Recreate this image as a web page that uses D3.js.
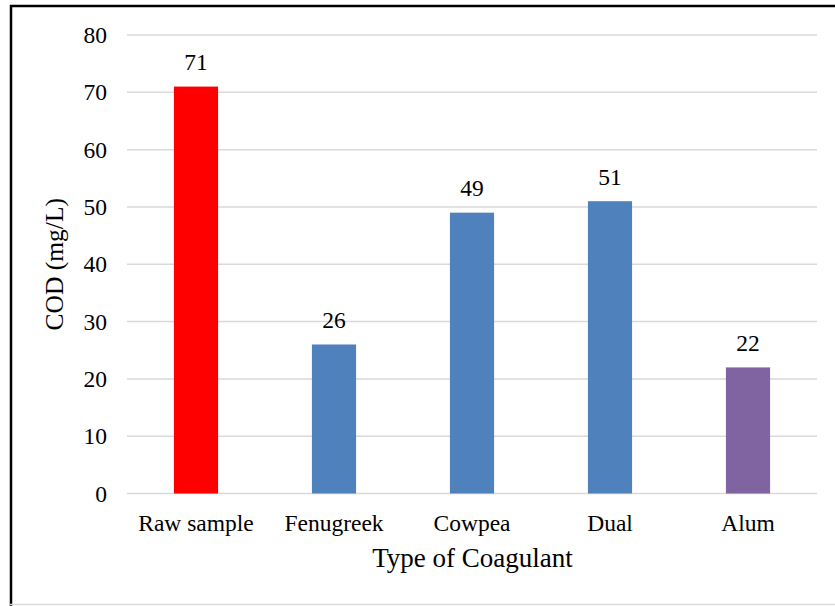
<!DOCTYPE html>
<html>
<head>
<meta charset="utf-8">
<script src="https://cdn.jsdelivr.net/npm/d3@7"></script>
<style>
  html, body { margin: 0; padding: 0; background: #fff; }
  svg { display: block; }
  text { font-family: "Liberation Serif", "Times New Roman", serif; fill: #000; }
</style>
</head>
<body>
<script>
// COD after treatment with each coagulant
const categories = ["Raw sample", "Fenugreek", "Cowpea", "Dual", "Alum"];
const codValues = [71, 26, 49, 51, 22];
const barColors = ["#FF0000", "#4F81BD", "#4F81BD", "#4F81BD", "#8064A2"];
const yTicks = [0, 10, 20, 30, 40, 50, 60, 70, 80];

const W = 835, H = 606;
const plot = { left: 127, right: 817, top: 35, bottom: 493.5 };
const labelSize = 23.5;

const svg = d3.select("body").append("svg")
  .attr("width", W).attr("height", H);

svg.append("rect").attr("width", W).attr("height", H).attr("fill", "#fff");

// frame: dark top/left, light bottom
svg.append("line").attr("x1", 10).attr("x2", W).attr("y1", 6).attr("y2", 6)
  .attr("stroke", "#000").attr("stroke-width", 2.5);
svg.append("line").attr("x1", 11).attr("x2", 11).attr("y1", 5).attr("y2", H)
  .attr("stroke", "#000").attr("stroke-width", 2.5);
svg.append("line").attr("x1", 10).attr("x2", W).attr("y1", 604.5).attr("y2", 604.5)
  .attr("stroke", "#D9D9D9").attr("stroke-width", 1.5);

const x = d3.scaleBand().domain(categories).range([plot.left, plot.right]).padding(0);
const y = d3.scaleLinear().domain([0, 80]).range([plot.bottom, plot.top]);
const barW = x.step() * 0.32;

// gridlines
svg.append("g").selectAll("line").data(yTicks).join("line")
  .attr("x1", plot.left).attr("x2", plot.right)
  .attr("y1", d => y(d)).attr("y2", d => y(d))
  .attr("stroke", "#D9D9D9").attr("stroke-width", 1.5);

// y-axis tick labels
const yAxis = svg.append("g").attr("transform", `translate(${plot.left},0)`)
  .call(d3.axisLeft(y).tickValues(yTicks).tickSize(0).tickPadding(20));
yAxis.select(".domain").remove();
yAxis.selectAll("text")
  .attr("font-size", labelSize).attr("fill", "#000");

// bars
svg.append("g").selectAll("rect").data(categories).join("rect")
  .attr("x", d => x(d) + x.bandwidth() / 2 - barW / 2)
  .attr("width", barW)
  .attr("y", (d, i) => y(codValues[i]))
  .attr("height", (d, i) => y(0) - y(codValues[i]))
  .attr("fill", (d, i) => barColors[i]);

// value labels
svg.append("g").selectAll("text").data(categories).join("text")
  .attr("x", d => x(d) + x.bandwidth() / 2)
  .attr("y", (d, i) => y(codValues[i]) - 16.5)
  .attr("text-anchor", "middle")
  .attr("font-size", labelSize)
  .text((d, i) => codValues[i]);

// x-axis category labels
const xAxis = svg.append("g").attr("transform", `translate(0,${plot.bottom})`)
  .call(d3.axisBottom(x).tickSize(0));
xAxis.select(".domain").remove();
xAxis.selectAll("text")
  .attr("y", 37.5).attr("dy", null)
  .attr("font-size", labelSize).attr("fill", "#000");

// axis titles
svg.append("text")
  .attr("x", 472.5).attr("y", 567)
  .attr("text-anchor", "middle").attr("font-size", 27)
  .text("Type of Coagulant");

svg.append("text")
  .attr("transform", `translate(63,${(plot.top + plot.bottom) / 2}) rotate(-90)`)
  .attr("text-anchor", "middle").attr("font-size", 25.5)
  .text("COD (mg/L)");
</script>
</body>
</html>
